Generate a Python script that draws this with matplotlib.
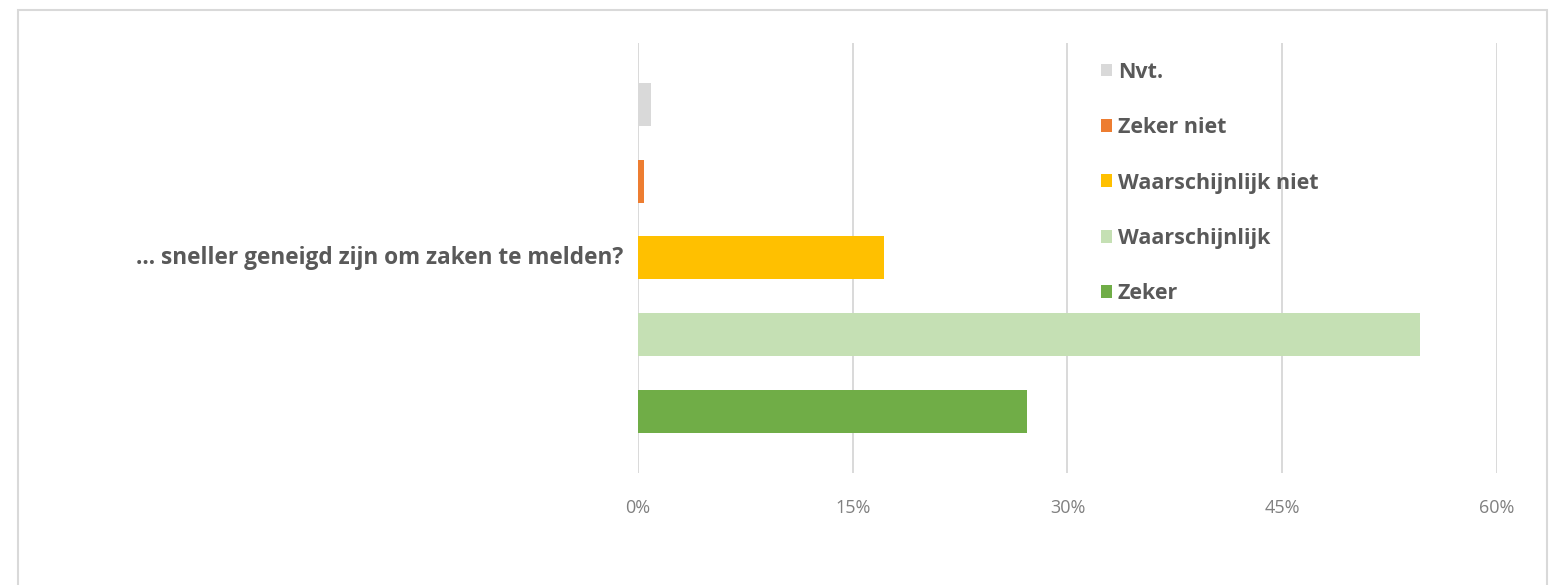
import matplotlib
matplotlib.use('Agg')
import matplotlib.pyplot as plt
from matplotlib.patches import Patch, Rectangle
from matplotlib.ticker import FuncFormatter

# Survey answers, one question, share of respondents in percent
question = '... sneller geneigd zijn om zaken te melden?'
answers = ['Zeker', 'Waarschijnlijk', 'Waarschijnlijk niet', 'Zeker niet', 'Nvt.']
shares = [27.2, 54.6, 17.2, 0.4, 0.9]
colors = ['#70AD47', '#C5E0B4', '#FFC000', '#ED7D31', '#D9D9D9']
xticks = [0, 15, 30, 45, 60]

plt.rcParams['font.family'] = ['Open Sans', 'DejaVu Sans']
text_col = '#595959'
grid_col = '#D9D9D9'

fig = plt.figure(figsize=(15.49, 5.85), dpi=100)
ax = fig.add_axes([0.4119, 0.1915, 0.9664 - 0.4119, 0.9265 - 0.1915])

pos = list(range(len(answers)))
ax.barh(pos, shares, height=0.56, color=colors, zorder=3)

ax.set_xlim(0, 60)
ax.set_ylim(-0.8, 4.8)
ax.set_xticks(xticks)
ax.xaxis.set_major_formatter(FuncFormatter(lambda v, p: '%d%%' % v))
ax.tick_params(axis='x', length=0, pad=19, labelsize=13, labelcolor='#808080')
ax.set_yticks([])
ax.grid(axis='x', color=grid_col, linewidth=1.4, zorder=0)
for s in ax.spines.values():
    s.set_visible(False)

# category label sits left of the group centre
ax.text(-0.017, 2, question, transform=ax.get_yaxis_transform(),
        ha='right', va='center', fontsize=16.3, fontweight='bold', color=text_col)

handles = [Patch(facecolor=c, edgecolor='none') for c in colors][::-1]
leg = fig.legend(handles, answers[::-1], loc='upper left',
                 bbox_to_anchor=(1092 / 1549, 1 - 53 / 585), frameon=False,
                 fontsize=15.5, handlelength=0.55, handleheight=0.55,
                 handletextpad=0.25, labelspacing=1.6, borderaxespad=0)
for t in leg.get_texts():
    t.set_color(text_col)
    t.set_fontweight('bold')

# light frame around the chart area
fig.patches.append(Rectangle((18 / 1549, -0.05), (1547 - 18) / 1549, 1.05 - 10 / 585,
                             transform=fig.transFigure, fill=False,
                             edgecolor=grid_col, linewidth=1.5))

fig.savefig('out.png', dpi=100, facecolor='white')
